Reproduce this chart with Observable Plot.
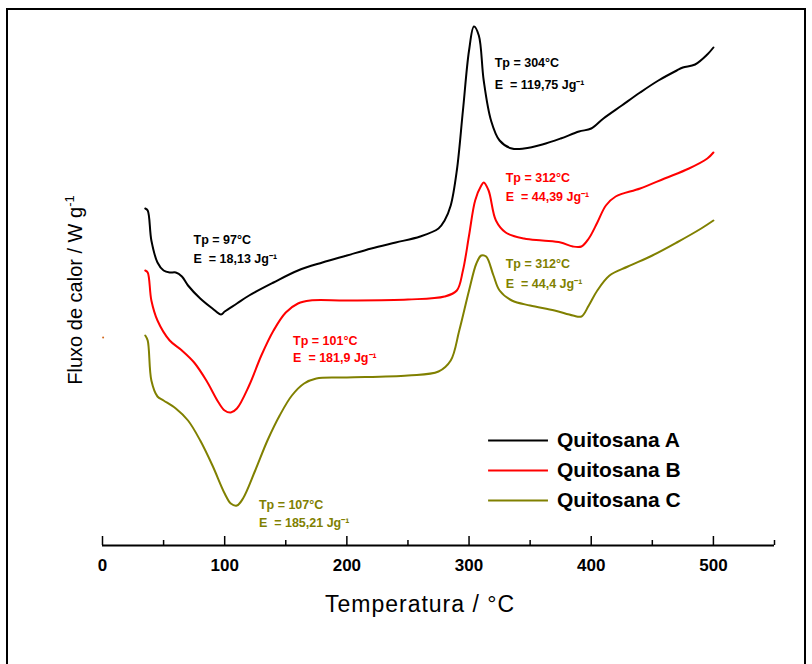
<!DOCTYPE html>
<html><head><meta charset="utf-8">
<script src="https://cdn.jsdelivr.net/npm/d3@7"></script>
<script src="https://cdn.jsdelivr.net/npm/@observablehq/plot@0.6"></script>
<style>body{margin:0;background:#fff;font-family:Arial,"Liberation Sans",sans-serif}#frame{position:absolute;left:6px;top:8px;width:796px;height:700px;border:2px solid #000;pointer-events:none}</style>
</head><body><div id="chart"></div><div id="frame"></div>
<script>
// Heat flow in arbitrary units (screen-height units, larger = lower on the plot)
const tempA = [35,37,40,45,50,55,60,65,70,80,90,97,100,110,120,140,160,180,200,220,240,260,275,280,285,290,295,300,304,308,312,318,325,335,345,360,375,390,400,410,425,440,455,470,475,485,495,500];
const fluxA = [208,210,240,262,270,272,272,276,285,298,308,314,311,303,295,282,270,262,255,248,242,236,228,220,205,170,110,50,26,35,80,120,140,148,148,144,138,131,128,118,105,92,80,70,67,64,54,47];
const tempB = [35,37,40,45,55,65,75,85,95,100,105,110,120,130,140,150,160,170,200,250,280,290,295,300,305,310,312,316,322,330,345,360,375,385,392,398,405,412,420,440,460,480,495,500];
const fluxB = [270,272,300,320,340,350,362,380,402,410,412,408,385,355,330,312,303,300,300,299,296,290,270,235,200,185,182,190,220,232,238,240,242,246,246,238,222,205,196,188,178,168,158,152];
const tempC = [35,37,40,45,50,60,70,80,90,100,105,110,115,125,135,145,155,165,175,200,250,275,285,292,300,306,310,314,320,325,335,350,370,385,392,398,405,415,430,450,470,490,500];
const fluxC = [335,340,380,396,400,408,420,440,465,493,503,505,498,470,440,415,395,383,378,377,375,371,360,330,290,263,255,256,275,290,300,305,310,315,316,305,290,275,266,255,242,228,220];
const series = ["Quitosana A","Quitosana B","Quitosana C"];
const colors = ["#000000","#ff0000","#808000"];
const xTicks = [0,100,200,300,400,500];
const xMinor = [50,150,250,350,450,550];
const notes = [
  {x:321,y:62,t:"Tp = 304°C",c:0},{x:321,y:84,t:"E  = 119,75 Jg⁻¹",c:0},
  {x:74.5,y:239,t:"Tp = 97°C",c:0},{x:74.5,y:258,t:"E  = 18,13 Jg⁻¹",c:0},
  {x:330,y:177,t:"Tp = 312°C",c:1},{x:330,y:196,t:"E  = 44,39 Jg⁻¹",c:1},
  {x:156,y:340,t:"Tp = 101°C",c:1},{x:156,y:357,t:"E  = 181,9 Jg⁻¹",c:1},
  {x:330,y:263,t:"Tp = 312°C",c:2},{x:330,y:283,t:"E  = 44,4 Jg⁻¹",c:2},
  {x:128,y:504,t:"Tp = 107°C",c:2},{x:128,y:522,t:"E  = 185,21 Jg⁻¹",c:2}
];
const legY = [440,470,500];

const mk = (ts, fs, s) => ts.map((t,i)=>({t, f:fs[i], s}));
const data = [...mk(tempA,fluxA,0),...mk(tempB,fluxB,1),...mk(tempC,fluxC,2)];

const chart = Plot.plot({
  width:812, height:664, marginLeft:102, marginRight:38, marginTop:10, marginBottom:119,
  x:{domain:[0,550], axis:null}, y:{domain:[545,10], axis:null},
  style:{fontFamily:"Arial, 'Liberation Sans', sans-serif"},
  marks:[
    Plot.line(data,{x:"t",y:"f",z:"s",stroke:d=>colors[d.s],strokeWidth:2,curve:"catmull-rom"}),
    Plot.dot([{x:0.5,y:337}],{x:"x",y:"y",r:1,fill:"#d2691e"}),
    Plot.ruleY([545],{x1:0,x2:550,strokeWidth:2}),
    Plot.ruleX(xTicks,{y1:545,y2:536,strokeWidth:1.5}),
    Plot.ruleX(xMinor,{y1:545,y2:540,strokeWidth:1.5}),
    Plot.text(xTicks,{x:d=>d,y:565,text:d=>String(d),fontSize:17,fontWeight:"bold"}),
    Plot.text(notes,{x:"x",y:"y",text:"t",fill:d=>colors[d.c],textAnchor:"start",fontSize:12.5,fontWeight:"bold"}),
    Plot.ruleY(legY,{x1:316,x2:365,stroke:(d,i)=>colors[i],strokeWidth:2}),
    Plot.text(series,{x:372,y:(d,i)=>legY[i],text:d=>d,textAnchor:"start",fontSize:21,fontWeight:"bold"})
  ]
});
const svg = d3.select(chart);
svg.append("text").attr("x",420).attr("y",612).attr("text-anchor","middle")
  .attr("font-size",23).attr("letter-spacing",1).attr("font-family","Arial, 'Liberation Sans', sans-serif").text("Temperatura / °C");
const yl = svg.append("text").attr("transform","translate(82,290) rotate(-90)").attr("text-anchor","middle")
  .attr("font-size",20).attr("font-family","Arial, 'Liberation Sans', sans-serif");
yl.append("tspan").text("Fluxo de calor / W g");
yl.append("tspan").attr("dy",-8).attr("font-size",13).text("-1");
document.getElementById("chart").append(chart);
</script></body></html>
